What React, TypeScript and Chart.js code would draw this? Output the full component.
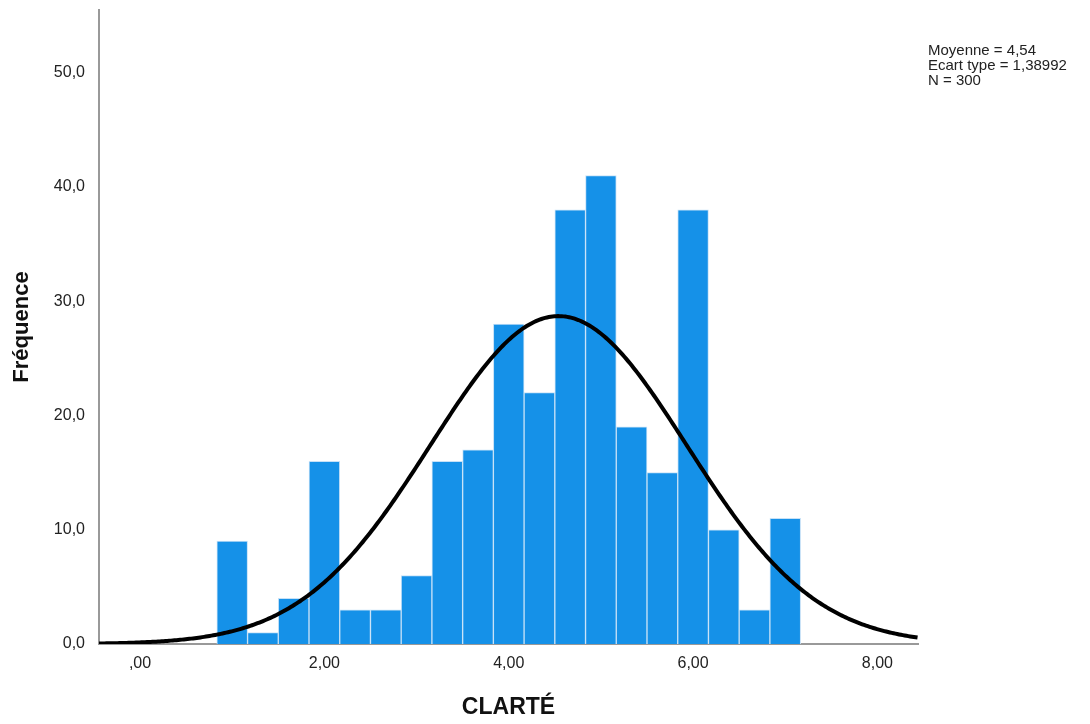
import React, { useEffect, useRef } from "react";
import { Chart, registerables } from "chart.js";

Chart.register(...registerables);

// Histogram bins of CLARTÉ (bin centres, width 1/3) and their counts
const binCenters = [1, 1.3333, 1.6667, 2, 2.3333, 2.6667, 3, 3.3333, 3.6667, 4, 4.3333, 4.6667, 5, 5.3333, 5.6667, 6, 6.3333, 6.6667, 7];
const binCounts = [9, 1, 4, 16, 3, 3, 6, 16, 17, 28, 22, 38, 41, 19, 15, 38, 10, 3, 11];
const binWidth = 1 / 3;

// Summary statistics shown in the corner
const MEAN = 4.54;
const SD = 1.38992;
const N = 300;
const statLines = ["Moyenne = 4,54", "Ecart type = 1,38992", "N = 300"];

const X_MIN = -0.445;
const X_MAX = 8.44;
const Y_MAX = 55.5;

// Fitted normal curve scaled to the histogram counts
function normalCurve() {
  const pts: { x: number; y: number }[] = [];
  const k = (N * binWidth) / (SD * Math.sqrt(2 * Math.PI));
  for (let x = X_MIN; x <= X_MAX + 0.001; x += 0.02) {
    const z = (x - MEAN) / SD;
    pts.push({ x, y: k * Math.exp(-0.5 * z * z) });
  }
  return pts;
}

const FONT = "'Liberation Sans', Arial, sans-serif";

const statsPlugin = {
  id: "statsText",
  afterDraw(chart: any) {
    const ctx = chart.ctx;
    ctx.save();
    ctx.fillStyle = "#222";
    ctx.font = `15px ${FONT}`;
    ctx.textBaseline = "middle";
    ctx.textAlign = "left";
    statLines.forEach((t, i) => ctx.fillText(t, 928, 51 + i * 15));
    ctx.restore();
  },
};

export default function App() {
  const ref = useRef<HTMLCanvasElement>(null);

  useEffect(() => {
    if (!ref.current) return;
    const chart = new Chart(ref.current, {
      type: "bar",
      data: {
        datasets: [
          {
            type: "line",
            data: normalCurve(),
            borderColor: "#000",
            borderWidth: 4,
            pointRadius: 0,
            tension: 0,
            order: 0,
          } as any,
          {
            type: "bar",
            data: binCenters.map((x, i) => ({ x, y: binCounts[i] })),
            backgroundColor: "#1591E8",
            borderColor: "#c6e1f7",
            borderWidth: 1,
            barPercentage: 1,
            categoryPercentage: 1,
            grouped: false,
            order: 1,
          } as any,
        ],
      },
      options: {
        responsive: false,
        animation: false,
        layout: { padding: { top: 10, right: 172, left: 0, bottom: 0 } },
        plugins: {
          legend: { display: false },
          tooltip: { enabled: false },
        },
        scales: {
          x: {
            type: "linear",
            min: X_MIN,
            max: X_MAX,
            offset: false,
            grid: { display: false, drawTicks: false },
            border: { display: true, color: "#999", width: 2 },
            ticks: {
              stepSize: 2,
              includeBounds: false,
              padding: 10,
              color: "#222",
              font: { family: FONT, size: 16 },
              callback: (v: any) => {
                let s = Number(v).toFixed(2).replace(".", ",");
                if (s.startsWith("0,")) s = s.slice(1);
                return s;
              },
            },
            title: {
              display: true,
              text: "CLARTÉ",
              color: "#111",
              font: { family: FONT, size: 23, weight: "bold" },
              padding: { top: 0, bottom: 3 },
            },
            afterFit: (s: any) => {
              s.height = 80;
              s.paddingLeft = 0;
              s.paddingRight = 0;
            },
          },
          y: {
            min: 0,
            max: Y_MAX,
            grid: { display: false, drawTicks: false },
            border: { display: true, color: "#999", width: 2 },
            ticks: {
              stepSize: 10,
              includeBounds: false,
              padding: 14,
              color: "#222",
              font: { family: FONT, size: 16 },
              callback: (v: any) => Number(v).toFixed(1).replace(".", ","),
            },
            title: {
              display: true,
              text: "Fréquence",
              color: "#111",
              font: { family: FONT, size: 22, weight: "bold" },
              padding: { top: 9, bottom: 0 },
            },
            afterFit: (s: any) => {
              s.width = 99;
              s.paddingTop = 0;
              s.paddingBottom = 0;
            },
          },
        },
      },
      plugins: [statsPlugin],
    });
    return () => chart.destroy();
  }, []);

  return (
    <div style={{ position: "fixed", left: 0, top: 0, width: 1090, height: 724, background: "#fff" }}>
      <canvas ref={ref} width={1090} height={724} />
    </div>
  );
}
